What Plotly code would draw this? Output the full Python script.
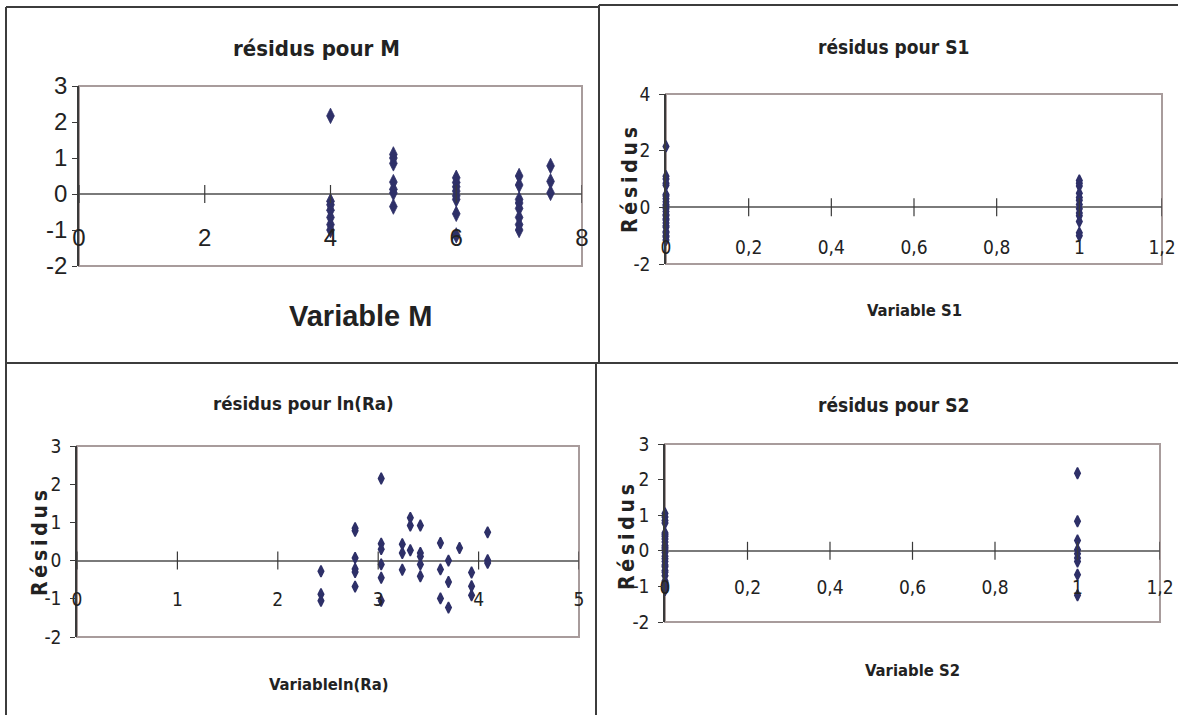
import plotly.graph_objects as go

W, H = 1178, 715

# ---------------- data ----------------
# Panel 1 : residuals vs M
m_x = [4, 4, 4, 4, 4, 4, 4,
       5, 5, 5, 5, 5, 5, 5,
       6, 6, 6, 6, 6, 6, 6, 6,
       7, 7, 7, 7, 7, 7, 7, 7,
       7.5, 7.5, 7.5]
m_res = [2.17, -0.2, -0.3, -0.45, -0.65, -0.85, -1.0,
         1.1, 1.0, 0.85, 0.33, 0.13, 0.03, -0.35,
         0.45, 0.32, 0.2, 0.08, -0.05, -0.15, -0.55, -1.15,
         0.5, 0.25, -0.15, -0.25, -0.4, -0.65, -0.85, -1.0,
         0.78, 0.35, 0.03]
m_xticks = [0, 2, 4, 6, 8]
m_xlabels = ["0", "2", "4", "6", "8"]
m_yticks = [-2, -1, 0, 1, 2, 3]
m_ylabels = ["-2", "-1", "0", "1", "2", "3"]

# Panel 2 : residuals vs S1
s1_x = [0, 0, 0, 0, 0, 0, 0, 0, 0, 0, 0, 0, 0, 0, 0, 0, 0, 0, 0, 0, 0, 0, 0, 0, 0,
        1, 1, 1, 1, 1, 1, 1, 1, 1, 1, 1, 1, 1]
s1_res = [2.15, 1.1, 1.0, 0.85, 0.78, 0.45, 0.4, 0.3, 0.2, 0.1, 0.05, -0.05, -0.15,
          -0.25, -0.3, -0.4, -0.45, -0.55, -0.65, -0.7, -0.85, -0.9, -1.0, -1.05, -1.15,
          0.95, 0.85, 0.75, 0.5, 0.35, 0.25, 0.1, -0.05, -0.2, -0.3, -0.5, -0.9, -1.0]
s_xticks = [0, 0.2, 0.4, 0.6, 0.8, 1, 1.2]
s_xlabels = ["0", "0,2", "0,4", "0,6", "0,8", "1", "1,2"]
s1_yticks = [-2, 0, 2, 4]
s1_ylabels = ["-2", "0", "2", "4"]

# Panel 3 : residuals vs ln(Ra)
lnra_x = [2.43, 2.43, 2.43,
          2.77, 2.77, 2.77, 2.77, 2.77, 2.77,
          3.03, 3.03, 3.03, 3.03, 3.03, 3.03,
          3.24, 3.24, 3.24,
          3.32, 3.32, 3.32,
          3.42, 3.42, 3.42, 3.42, 3.42,
          3.62, 3.62, 3.62,
          3.70, 3.70, 3.70,
          3.81,
          3.93, 3.93, 3.93,
          4.09, 4.09, 4.09]
lnra_res = [-0.28, -0.88, -1.05,
            0.85, 0.78, 0.07, -0.22, -0.3, -0.68,
            2.15, 0.44, 0.3, -0.1, -0.45, -1.05,
            0.43, 0.2, -0.24,
            1.12, 0.92, 0.27,
            0.92, 0.2, 0.11, -0.1, -0.41,
            0.46, -0.23, -0.99,
            0.0, -0.56, -1.23,
            0.33,
            -0.31, -0.67, -0.91,
            0.74, 0.01, -0.06]
lnra_xticks = [0, 1, 2, 3, 4, 5]
lnra_xlabels = ["0", "1", "2", "3", "4", "5"]
res_yticks = [-2, -1, 0, 1, 2, 3]
res_ylabels = ["-2", "-1", "0", "1", "2", "3"]

# Panel 4 : residuals vs S2
s2_x = [0, 0, 0, 0, 0, 0, 0, 0, 0, 0, 0, 0, 0, 0, 0, 0, 0, 0, 0, 0, 0, 0, 0, 0, 0,
        1, 1, 1, 1, 1, 1, 1, 1, 1]
s2_res = [1.05, 0.95, 0.85, 0.78, 0.5, 0.45, 0.4, 0.33, 0.25, 0.15, 0.1, 0.05, -0.05,
          -0.15, -0.22, -0.3, -0.4, -0.45, -0.55, -0.6, -0.7, -0.85, -0.9, -1.0, -1.1,
          2.18, 0.83, 0.29, 0.03, -0.08, -0.2, -0.3, -0.67, -1.25]

titles = ["résidus pour M", "résidus pour S1", "résidus pour ln(Ra)", "résidus pour S2"]
xtitles = ["Variable M", "Variable S1", "Variableln(Ra)", "Variable S2"]
ytitle = "R\u2009é\u2009s\u2009i\u2009d\u2009u\u2009s"

# ---------------- styling ----------------
NARROW = "DejaVu Sans Condensed, Liberation Sans Narrow, Arial Narrow, sans-serif"
ARIAL = "Liberation Sans, Arial, sans-serif"
MARKER = "#2E3068"
TXT = "#222222"


def fx(px):
    return px / W


def fy(py):
    return 1 - py / H


panels = [
    dict(xs=m_x, ys=m_res, xt=m_xticks, xl=m_xlabels, yt=m_yticks, yl=m_ylabels,
         xr=[0, 8], yr=[-2, 3], msize=11, mline=0.8,
         px=(79, 582), py=(86, 266), tickfont=dict(family=ARIAL, size=24, color=TXT),
         title=dict(x=316, y=48, size=22), xtitle=dict(x=360, y=316, family=ARIAL, size=29),
         ytitle=None, standoff=27, ystand=0),
    dict(xs=s1_x, ys=s1_res, xt=s_xticks, xl=s_xlabels, yt=s1_yticks, yl=s1_ylabels,
         xr=[0, 1.2], yr=[-2, 4], msize=8, mline=1.5,
         px=(666, 1162), py=(94, 264), tickfont=dict(family=NARROW, size=19, color=TXT),
         title=dict(x=893, y=47, size=19), xtitle=dict(x=915, y=311, family=NARROW, size=16.5),
         ytitle=dict(x=630, y=180), standoff=27, ystand=5),
    dict(xs=lnra_x, ys=lnra_res, xt=lnra_xticks, xl=lnra_xlabels, yt=res_yticks, yl=res_ylabels,
         xr=[0, 5], yr=[-2, 3], msize=8, mline=1.5,
         px=(77, 579), py=(446, 637), tickfont=dict(family=NARROW, size=19, color=TXT),
         title=dict(x=303, y=403, size=18.5), xtitle=dict(x=328, y=684, family=NARROW, size=16.5),
         ytitle=dict(x=40, y=543), standoff=25, ystand=5),
    dict(xs=s2_x, ys=s2_res, xt=s_xticks, xl=s_xlabels, yt=res_yticks, yl=res_ylabels,
         xr=[0, 1.2], yr=[-2, 3], msize=8, mline=1.5,
         px=(665, 1160), py=(444, 622), tickfont=dict(family=NARROW, size=19, color=TXT),
         title=dict(x=893, y=405, size=19), xtitle=dict(x=912, y=670, family=NARROW, size=16.5),
         ytitle=dict(x=627, y=537), standoff=23, ystand=5),
]

fig = go.Figure()
layout = dict(width=W, height=H, margin=dict(l=0, r=0, t=0, b=0, autoexpand=False),
              paper_bgcolor="white", plot_bgcolor="white", showlegend=False)
shapes = []
annotations = []

for i, p in enumerate(panels, start=1):
    sx = "" if i == 1 else str(i)
    xname, yname = "x" + sx, "y" + sx
    fig.add_trace(go.Scatter(
        x=p["xs"], y=p["ys"], mode="markers", xaxis=xname, yaxis=yname,
        cliponaxis=False,
        marker=dict(symbol="diamond-tall", size=p["msize"], color=MARKER,
                    line=dict(width=p["mline"], color=MARKER)),
        hoverinfo="x+y"))

    dom_y = [fy(p["py"][1]), fy(p["py"][0])]
    y0, y1 = p["yr"]
    zero_pos = dom_y[0] + (0 - y0) / (y1 - y0) * (dom_y[1] - dom_y[0])

    layout["xaxis" + sx] = dict(
        domain=[fx(p["px"][0]), fx(p["px"][1])], range=p["xr"],
        tickvals=p["xt"], ticktext=p["xl"], showgrid=False, zeroline=False, showline=False,
        ticks="", anchor="free", position=zero_pos, automargin=False,
        ticklabelstandoff=p["standoff"], tickfont=p["tickfont"], fixedrange=True)
    layout["yaxis" + sx] = dict(
        domain=dom_y, range=p["yr"], tickvals=p["yt"], ticktext=p["yl"], anchor=xname,
        showgrid=False, zeroline=True, zerolinecolor="#7a7a7a", zerolinewidth=1.5,
        showline=True, linecolor="#3a3a3a", linewidth=1.5, automargin=False,
        ticks="outside", ticklen=5, tickcolor="#3a3a3a", tickwidth=1.2,
        ticklabelstandoff=p["ystand"], tickfont=p["tickfont"], fixedrange=True)

    # plot-area frame
    shapes.append(dict(type="rect", xref=xname + " domain", yref=yname + " domain",
                       x0=0, x1=1, y0=0, y1=1, layer="below",
                       line=dict(color="#a89c9c", width=2)))
    # crossing tick marks on the horizontal axis (y = 0)
    for t in p["xt"]:
        shapes.append(dict(type="line", xref=xname, yref=yname, x0=t, x1=t,
                           ysizemode="pixel", yanchor=0, y0=-9, y1=9,
                           line=dict(color="#3a3a3a", width=1.2)))

    # chart title
    annotations.append(dict(text="<b>%s</b>" % titles[i - 1], xref="paper", yref="paper",
                            x=fx(p["title"]["x"]), y=fy(p["title"]["y"]),
                            xanchor="center", yanchor="middle", showarrow=False,
                            font=dict(family=NARROW, size=p["title"]["size"], color=TXT)))
    # x-axis title
    annotations.append(dict(text="<b>%s</b>" % xtitles[i - 1], xref="paper", yref="paper",
                            x=fx(p["xtitle"]["x"]), y=fy(p["xtitle"]["y"]),
                            xanchor="center", yanchor="middle", showarrow=False,
                            font=dict(family=p["xtitle"]["family"], size=p["xtitle"]["size"],
                                      color=TXT)))
    # y-axis title
    if p["ytitle"]:
        annotations.append(dict(text="<b>%s</b>" % ytitle, xref="paper", yref="paper",
                                x=fx(p["ytitle"]["x"]), y=fy(p["ytitle"]["y"]),
                                xanchor="center", yanchor="middle", showarrow=False,
                                textangle=-90,
                                font=dict(family=NARROW, size=21, color=TXT)))

# chart-area borders (pixel positions converted to paper coordinates)
border_lines = [
    (6, 7, 6, 715), (6, 7, 599, 7), (599, 5, 1178, 5), (599, 5, 599, 363),
    (6, 363, 1178, 363), (596, 363, 596, 715),
]
for (xa, ya, xb, yb) in border_lines:
    shapes.append(dict(type="line", xref="paper", yref="paper",
                       x0=fx(xa), y0=fy(ya), x1=fx(xb), y1=fy(yb),
                       line=dict(color="#3c3c3c", width=2)))

layout["shapes"] = shapes
layout["annotations"] = annotations
fig.update_layout(**layout)

fig.write_html("out.html", config={"displayModeBar": False},
               post_script="document.body.style.margin='0';document.body.style.overflow='hidden';")
